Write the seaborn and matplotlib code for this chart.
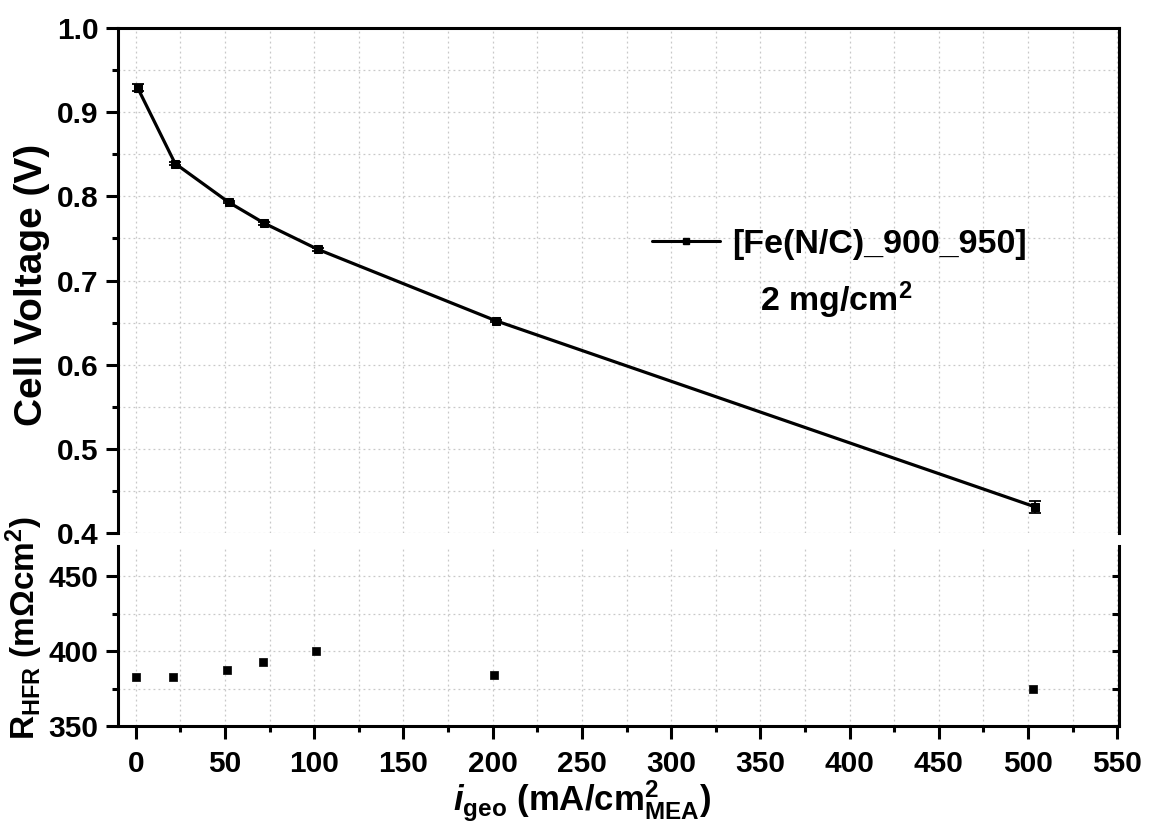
import matplotlib
matplotlib.use("Agg")
import matplotlib.pyplot as plt
import seaborn as sns
import numpy as np
import pandas as pd
from matplotlib.ticker import MultipleLocator, NullFormatter
from matplotlib.lines import Line2D

# ---- data ----
current = [1, 22, 52, 72, 102, 202, 504]                  # mA/cm2
voltage = [0.929, 0.839, 0.793, 0.768, 0.737, 0.652, 0.431]  # V
v_err = [0.004, 0.0015, 0.0015, 0.0015, 0.0015, 0.0015, 0.0068]
hfr_current = [0, 21, 51, 71, 101, 201, 503]
hfr = [382.5, 382.5, 387.5, 392.5, 400, 384, 375]         # mOhm cm2
series_label = "[Fe(N/C)_900_950]"
loading_label = "2 mg/cm$^{\\rm 2}$"
v_ticks = [0.4, 0.5, 0.6, 0.7, 0.8, 0.9, 1.0]
r_ticks = [350, 400, 450]
x_ticks = [0, 50, 100, 150, 200, 250, 300, 350, 400, 450, 500, 550]

sns.set_theme(style="white")
plt.rcParams['font.family'] = ['Liberation Sans', 'DejaVu Sans']
plt.rcParams['font.weight'] = 'bold'
plt.rcParams['text.color'] = 'black'
plt.rcParams['axes.labelcolor'] = 'black'
plt.rcParams['xtick.color'] = 'black'
plt.rcParams['ytick.color'] = 'black'
plt.rcParams['mathtext.fontset'] = 'custom'
plt.rcParams['mathtext.rm'] = 'Liberation Sans:bold'
plt.rcParams['mathtext.it'] = 'Liberation Sans:bold:italic'
plt.rcParams['mathtext.bf'] = 'Liberation Sans:bold'

df_v = pd.DataFrame({"i": current, "V": voltage})
df_r = pd.DataFrame({"i": hfr_current, "R": hfr})

W, H = 1149, 827
fig = plt.figure(figsize=(W / 100, H / 100), dpi=100)
L, R = 118 / W, 1119 / W
ax1 = fig.add_axes([L, 1 - 533 / H, R - L, (533 - 28) / H])
ax2 = fig.add_axes([L, 1 - 726 / H, R - L, (726 - 546) / H])

spine_lw = 2.2
tick_fs = 21.5
grid_kw = dict(color="#c8c8c8", linestyle=(0, (1.5, 2.5)), linewidth=0.9)

# ---- top panel ----
ax1.errorbar(current, voltage, yerr=v_err, fmt="none", ecolor="black",
             elinewidth=1.3, capsize=4, capthick=1.3, zorder=3)
sns.lineplot(data=df_v, x="i", y="V", ax=ax1, color="black", linewidth=2.3,
             marker="s", markersize=6, markeredgecolor="black", zorder=4,
             legend=False)
ax1.set_xlim(-10, 551)
ax1.set_ylim(0.4, 1.0)
ax1.set_yticks(v_ticks)
ax1.set_yticklabels([f"{v:.1f}" for v in v_ticks])
ax1.yaxis.set_minor_locator(MultipleLocator(0.05))
ax1.xaxis.set_major_locator(MultipleLocator(50))
ax1.xaxis.set_minor_locator(MultipleLocator(25))
ax1.grid(True, which="both", **grid_kw)
ax1.spines["bottom"].set_visible(False)
for s in ["left", "top", "right"]:
    ax1.spines[s].set_linewidth(spine_lw)
    ax1.spines[s].set_color("black")
ax1.tick_params(axis="x", which="both", bottom=False, top=False, labelbottom=False)
ax1.tick_params(axis="y", which="major", left=True, direction="out", length=9,
                width=spine_lw, labelsize=tick_fs, pad=5)
ax1.tick_params(axis="y", which="minor", left=True, direction="out", length=4,
                width=spine_lw)
ax1.set_xlabel("")
ax1.set_ylabel("")
for lab in ax1.get_yticklabels():
    lab.set_fontweight("bold")

handle = Line2D([0], [0], color="black", linewidth=2.2, marker="s", markersize=5)
leg = ax1.legend([handle], [series_label], loc="center left",
                 bbox_to_anchor=((652 - 118) / 1001, (533 - 244) / 505),
                 frameon=False, borderpad=0, borderaxespad=0,
                 prop={"size": 24.5, "weight": "bold"}, handlelength=2.0,
                 handletextpad=0.35)
ax1.text((760 - 118) / 1001, (533 - 300) / 505, loading_label,
         transform=ax1.transAxes, fontsize=24.5, fontweight="bold",
         ha="left", va="center")

# ---- bottom panel ----
sns.scatterplot(data=df_r, x="i", y="R", ax=ax2, color="black", marker="s",
                s=40, edgecolor="black", linewidth=0.5, zorder=4, legend=False)
ax2.set_xlim(-10, 551)
ax2.set_ylim(350, 470)
ax2.set_xticks(x_ticks)
ax2.set_xticklabels([str(v) for v in x_ticks])
ax2.xaxis.set_minor_locator(MultipleLocator(25))
ax2.set_yticks(r_ticks)
ax2.set_yticklabels([str(v) for v in r_ticks])
ax2.yaxis.set_minor_locator(MultipleLocator(25))
ax2.grid(True, which="both", **grid_kw)
ax2.spines["top"].set_visible(False)
for s in ["left", "bottom", "right"]:
    ax2.spines[s].set_linewidth(spine_lw)
    ax2.spines[s].set_color("black")
ax2.tick_params(axis="x", which="major", bottom=True, direction="out", length=9,
                width=spine_lw, labelsize=tick_fs, pad=8)
ax2.tick_params(axis="x", which="minor", bottom=True, direction="out", length=4,
                width=spine_lw)
ax2.tick_params(axis="y", which="major", left=True, right=False, direction="out",
                length=9, width=spine_lw, labelsize=tick_fs, pad=5)
ax2.tick_params(axis="y", which="minor", left=True, right=False, direction="out",
                length=4, width=spine_lw)
ax2.set_xlabel("")
ax2.set_ylabel("")
for lab in ax2.get_xticklabels() + ax2.get_yticklabels():
    lab.set_fontweight("bold")

# inward ticks on the right edge of the lower panel
ax2r = ax2.twinx()
ax2r.set_ylim(350, 470)
ax2r.set_yticks(r_ticks)
ax2r.yaxis.set_minor_locator(MultipleLocator(25))
ax2r.yaxis.set_major_formatter(NullFormatter())
for s in ax2r.spines.values():
    s.set_visible(False)
ax2r.grid(False)
ax2r.tick_params(axis="y", which="both", right=True, left=False, direction="in",
                 length=5, width=spine_lw, labelright=False)

# ---- axis titles ----
fig.text(0.028, 1 - 285 / H, "Cell Voltage (V)", rotation=90, ha="center",
         va="center", fontsize=28, fontweight="bold")
fig.text(0.021, 1 - 628 / H, "R$_{\\rm HFR}$ (mΩcm$^{\\rm 2}$)", rotation=90,
         ha="center", va="center", fontsize=24, fontweight="bold")
fig.text(582 / W, 1 - 801 / H, "$i_{\\rm geo}$ (mA/cm$^{\\rm 2}_{\\rm MEA}$)",
         ha="center", va="center", fontsize=25, fontweight="bold")

fig.savefig("out.png", dpi=100)
